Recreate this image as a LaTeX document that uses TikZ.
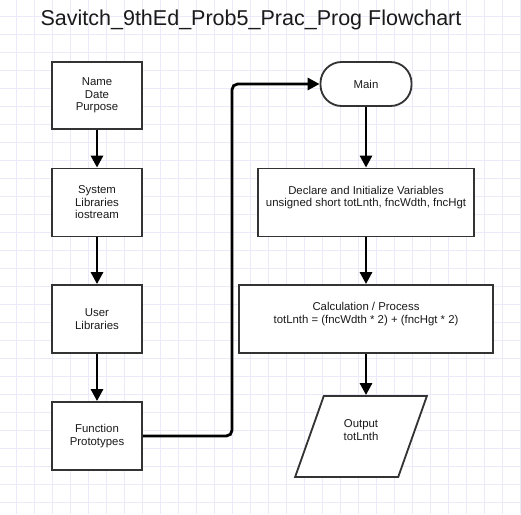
\documentclass[tikz,border=0pt]{standalone}
\usepackage{fontspec}
\setmainfont{Liberation Sans}
\usetikzlibrary{arrows.meta,shapes.geometric}
\definecolor{ink}{HTML}{1A1A1A}
\definecolor{edge}{HTML}{333333}
\definecolor{gridline}{HTML}{EAEAF8}
\newcommand{\boxfont}{\fontsize{8.1}{8.9}\selectfont}
\tikzset{
 every node/.append style={font=\boxfont,text=ink,align=center},
 box/.style={draw=edge,fill=white,line width=1.3pt,inner sep=2pt},
 proc/.style={box,minimum width=2.25cm,minimum height=1.7cm},
 term/.style={box,rounded corners=15pt,minimum width=2.275cm,minimum height=1.1cm},
 io/.style={box,trapezium,trapezium left angle=68,trapezium right angle=112,trapezium stretches=true,minimum width=3.3cm,minimum height=2.025cm},
 flow/.style={-{Triangle[length=8.5pt,width=8.5pt]},draw=black,line width=2pt},
 title/.style={font=\fontsize{15.3}{18}\selectfont,inner sep=0pt},
}

\begin{document}
\begin{tikzpicture}

\fill[white] (0,0) rectangle (13.025,-12.85);
\useasboundingbox (0,0) rectangle (13.025,-12.85);
\draw[gridline,line width=.4pt,step=.45cm,xshift=.4cm,yshift=-.4cm] (-.4,.4) grid (12.625,-12.45);

\node[title,anchor=base] (head) at (6.275,-.65) {Savitch\_9thEd\_Prob5\_Prac\_Prog Flowchart};

\node[proc,minimum height=1.675cm] (info) at (2.425,-2.3875) {Name\\Date\\Purpose};
\node[proc] (syslib) at (2.425,-5.0625) {System\\Libraries\\iostream};
\node[proc] (userlib) at (2.425,-7.975) {User\\Libraries};
\node[proc] (proto) at (2.425,-10.9) {Function\\Prototypes};

\node[term] (main) at (9.15,-2.1) {Main};
\node[proc,minimum width=5.4cm] (declare) at (9.15,-5.0625) {Declare and Initialize Variables\\unsigned short totLnth, fncWdth, fncHgt\\\mbox{}};
\node[proc,minimum width=6.35cm] (calc) at (9.15,-7.975) {Calculation / Process\\totLnth = (fncWdth * 2) + (fncHgt * 2)\\\mbox{}};
\node[io] (output) at (9.025,-10.9125) {Output\\totLnth\\\mbox{}};

\coordinate (bend) at (5.8,-2.1);
\draw[flow] (info) -- (syslib);
\draw[flow] (syslib) -- (userlib);
\draw[flow] (userlib) -- (proto);
\draw[flow,rounded corners=4pt] (proto.east) -| (bend) -- (main.west);
\draw[flow] (main) -- (declare);
\draw[flow] (declare) -- (calc);
\draw[flow] (calc.south) -- (calc.south |- output.north);

\end{tikzpicture}
\end{document}
